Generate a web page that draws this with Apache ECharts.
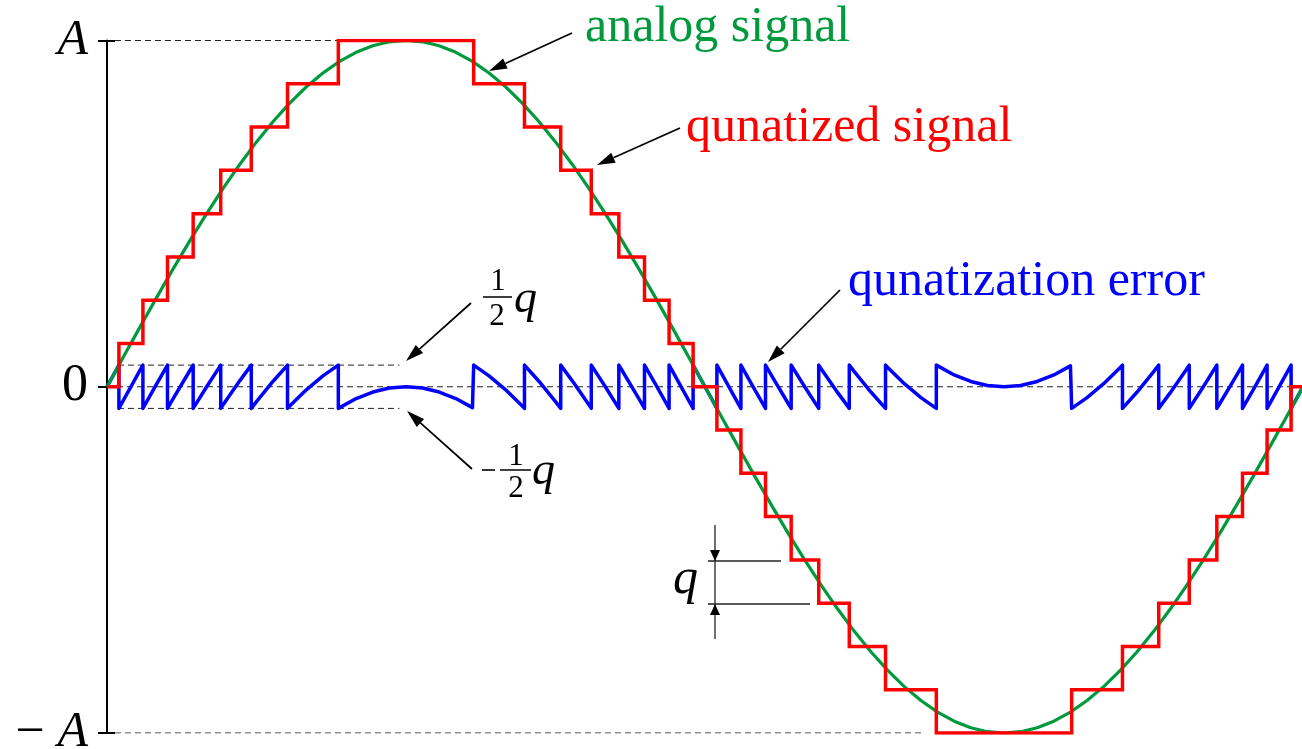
<!DOCTYPE html>
<html>
<head>
<meta charset="utf-8">
<script src="https://cdn.jsdelivr.net/npm/echarts@6/dist/echarts.min.js"></script>
<style>
  html, body { margin: 0; padding: 0; background: #fff; }
  #chart { width: 1302px; height: 749px; }
</style>
</head>
<body>
<div id="chart"></div>
<script>
// Phase of the analog samples (degrees over one period)
const phaseDeg = [
  0, 5, 10, 15, 20, 25, 30, 35, 40, 45, 50, 55, 60, 65, 70, 75, 80, 85, 90,
  95, 100, 105, 110, 115, 120, 125, 130, 135, 140, 145, 150, 155, 160, 165, 170, 175, 180,
  185, 190, 195, 200, 205, 210, 215, 220, 225, 230, 235, 240, 245, 250, 255, 260, 265, 270,
  275, 280, 285, 290, 295, 300, 305, 310, 315, 320, 325, 330, 335, 340, 345, 350, 355, 360
];
// Analog signal, in units of the quantization step q (A = 8q)
const analogSignal = [
  0, 0.697, 1.389, 2.071, 2.736, 3.381, 4, 4.589, 5.142, 5.657, 6.128, 6.553, 6.928, 7.250, 7.518, 7.727, 7.878, 7.970, 8,
  7.970, 7.878, 7.727, 7.518, 7.250, 6.928, 6.553, 6.128, 5.657, 5.142, 4.589, 4, 3.381, 2.736, 2.071, 1.389, 0.697, 0,
  -0.697, -1.389, -2.071, -2.736, -3.381, -4, -4.589, -5.142, -5.657, -6.128, -6.553, -6.928, -7.250, -7.518, -7.727, -7.878, -7.970, -8,
  -7.970, -7.878, -7.727, -7.518, -7.250, -6.928, -6.553, -6.128, -5.657, -5.142, -4.589, -4, -3.381, -2.736, -2.071, -1.389, -0.697, 0
];

// Quantized signal: phase where each level starts, and the level (in q)
const stepDeg = [
  0, 3.58, 10.81, 18.21, 25.94, 34.23, 43.43, 54.34, 69.63,
  110.37, 125.66, 136.57, 145.77, 154.06, 161.79, 169.19, 176.42,
  183.58, 190.81, 198.21, 205.94, 214.23, 223.43, 234.34, 249.63,
  290.37, 305.66, 316.57, 325.77, 334.06, 341.79, 349.19, 356.42, 360
];
const stepLevel = [
  0, 1, 2, 3, 4, 5, 6, 7, 8,
  7, 6, 5, 4, 3, 2, 1, 0,
  -1, -2, -3, -4, -5, -6, -7, -8,
  -7, -6, -5, -4, -3, -2, -1, 0, 0
];

// Quantization error (analog minus quantized), in q
const errorDeg = [
  0, 3.58, 3.58, 5, 10, 10.81, 10.81, 15, 18.21, 18.21, 20, 25, 25.94, 25.94, 30, 34.23, 34.23,
  35, 40, 43.43, 43.43, 45, 50, 54.34, 54.34, 55, 60, 65, 69.63, 69.63,
  70, 75, 80, 85, 90, 95, 100, 105, 110, 110.37, 110.37,
  115, 120, 125, 125.66, 125.66, 130, 135, 136.57, 136.57, 140, 145, 145.77, 145.77,
  150, 154.06, 154.06, 155, 160, 161.79, 161.79, 165, 169.19, 169.19, 170, 175, 176.42, 176.42, 180,
  183.58, 183.58, 185, 190, 190.81, 190.81, 195, 198.21, 198.21, 200, 205, 205.94, 205.94, 210, 214.23, 214.23,
  215, 220, 223.43, 223.43, 225, 230, 234.34, 234.34, 235, 240, 245, 249.63, 249.63,
  250, 255, 260, 265, 270, 275, 280, 285, 290, 290.37, 290.37,
  295, 300, 305, 305.66, 305.66, 310, 315, 316.57, 316.57, 320, 325, 325.77, 325.77,
  330, 334.06, 334.06, 335, 340, 341.79, 341.79, 345, 349.19, 349.19, 350, 355, 356.42, 356.42, 360
];
const errorVal = [
  0, 0.5, -0.5, -0.303, 0.389, 0.5, -0.5, 0.071, 0.5, -0.5, -0.264, 0.381, 0.5, -0.5, 0, 0.5, -0.5,
  -0.411, 0.142, 0.5, -0.5, -0.343, 0.128, 0.5, -0.5, -0.447, -0.072, 0.250, 0.5, -0.5,
  -0.482, -0.273, -0.122, -0.030, 0, -0.030, -0.122, -0.273, -0.482, -0.5, 0.5,
  0.250, -0.072, -0.447, -0.5, 0.5, 0.128, -0.343, -0.5, 0.5, 0.142, -0.411, -0.5, 0.5,
  0, -0.5, 0.5, 0.381, -0.264, -0.5, 0.5, 0.071, -0.5, 0.5, 0.389, -0.303, -0.5, 0.5, 0,
  -0.5, 0.5, 0.303, -0.389, -0.5, 0.5, -0.071, -0.5, 0.5, 0.264, -0.381, -0.5, 0.5, 0, -0.5, 0.5,
  0.411, -0.142, -0.5, 0.5, 0.343, -0.128, -0.5, 0.5, 0.447, 0.072, -0.250, -0.5, 0.5,
  0.482, 0.273, 0.122, 0.030, 0, 0.030, 0.122, 0.273, 0.482, 0.5, -0.5,
  -0.250, 0.072, 0.447, 0.5, -0.5, -0.128, 0.343, 0.5, -0.5, -0.142, 0.411, 0.5, -0.5,
  0, 0.5, -0.5, -0.381, 0.264, 0.5, -0.5, -0.071, 0.5, -0.5, -0.389, 0.303, 0.5, -0.5, 0
];

// Y-axis ticks (in q) and their labels
const tickValues = [-8, 0, 8];
const tickLabels = ['{n|\u2212 }{i|A}', '{n|0}', '{i|A}'];

// Dashed reference levels: level (q) and phase span (degrees)
const guideLevel = [8, -8, 0, 0.5, -0.5];
const guideFrom  = [2.4, 2.4, 0, 3.3, 3.3];
const guideTo    = [69.6, 246, 360, 88, 88];

const GREEN = '#009a3d';
const RED = '#ff0000';
const BLUE = '#0000ff';
const SERIF = '"Liberation Serif", "Times New Roman", serif';

const chart = echarts.init(document.getElementById('chart'), null, { renderer: 'canvas' });

const zip = (xs, ys) => xs.map((x, i) => [x, ys[i]]);

const guideSeries = guideLevel.map((lv, i) => ({
  type: 'line',
  silent: true,
  symbol: 'none',
  z: 1,
  data: [[guideFrom[i], lv], [guideTo[i], lv]],
  lineStyle: { color: '#222', width: 1, type: [6, 4] }
}));

const option = {
  animation: false,
  backgroundColor: '#fff',
  grid: {
    left: 107, top: 40.5, width: 1196, height: 692.5,
    containLabel: false, outerBoundsMode: 'none'
  },
  xAxis: { type: 'value', min: 0, max: 360, show: false },
  yAxis: [
    {
      type: 'value', min: -8, max: 8, interval: 8,
      axisLine: { show: true, lineStyle: { color: '#000', width: 2 } },
      axisTick: { show: true, length: 9, lineStyle: { color: '#000', width: 2 } },
      splitLine: { show: false },
      axisLabel: {
        margin: 19,
        formatter: v => tickLabels[tickValues.indexOf(v)],
        rich: {
          i: { fontFamily: SERIF, fontStyle: 'italic', fontSize: 50, color: '#000' },
          n: { fontFamily: SERIF, fontSize: 52, color: '#000' }
        }
      }
    },
    {
      type: 'value', min: -8, max: 8, interval: 8, position: 'left',
      axisLine: { show: false },
      axisTick: { show: true, inside: true, length: 8, lineStyle: { color: '#000', width: 2 } },
      axisLabel: { show: false },
      splitLine: { show: false }
    }
  ],
  series: [
    ...guideSeries,
    {
      name: 'qunatization error',
      type: 'line', symbol: 'none', z: 3,
      data: zip(errorDeg, errorVal),
      lineStyle: { color: BLUE, width: 3.5, join: 'round' }
    },
    {
      name: 'analog signal',
      type: 'line', symbol: 'none', z: 4,
      data: zip(phaseDeg, analogSignal),
      lineStyle: { color: GREEN, width: 3.2 }
    },
    {
      name: 'qunatized signal',
      type: 'line', symbol: 'none', z: 5, step: 'end',
      data: zip(stepDeg, stepLevel),
      lineStyle: { color: RED, width: 3.5, join: 'miter' }
    }
  ]
};
chart.setOption(option);

// ---- annotations ----
function arrow(x1, y1, x2, y2, len, wid, color) {
  const dx = x2 - x1, dy = y2 - y1;
  const d = Math.hypot(dx, dy);
  const ux = dx / d, uy = dy / d;
  const bx = x2 - ux * len, by = y2 - uy * len;
  const px = -uy * wid / 2, py = ux * wid / 2;
  return [
    { type: 'line', silent: true, z: 10,
      shape: { x1, y1, x2: bx, y2: by },
      style: { stroke: color, lineWidth: 1.7 } },
    { type: 'polygon', silent: true, z: 10,
      shape: { points: [[x2, y2], [bx + px, by + py], [bx - px, by - py]] },
      style: { fill: color } }
  ];
}
function label(x, y, text, size, color, italic, align) {
  return {
    type: 'text', silent: true, z: 10,
    style: {
      x, y, text,
      font: (italic ? 'italic ' : '') + size + 'px ' + SERIF,
      fill: color, align: align || 'left', verticalAlign: 'middle'
    }
  };
}
function hline(x1, x2, y, w, color) {
  return { type: 'line', silent: true, z: 10, shape: { x1, y1: y, x2, y2: y }, style: { stroke: color, lineWidth: w } };
}

const graphics = [
  label(585, 28, 'analog signal', 50, GREEN),
  label(686, 128, 'qunatized signal', 50, RED),
  label(848, 282, 'qunatization error', 50, BLUE),
  ...arrow(572, 33, 489, 71, 18, 11, '#000'),
  ...arrow(680, 128, 597, 165, 18, 11, '#000'),
  ...arrow(840, 290, 768, 362, 18, 11, '#000'),
  ...arrow(471, 303, 406, 361, 18, 11, '#000'),
  ...arrow(472, 469, 407, 411, 18, 11, '#000'),

  // ½q
  label(498, 282, '1', 31, '#000', false, 'center'),
  hline(483, 512, 297, 1.5, '#000'),
  label(497, 317, '2', 31, '#000', false, 'center'),
  label(514, 300, 'q', 46, '#000', true),

  // −½q
  hline(482, 495, 470, 1.6, '#000'),
  hline(500, 531, 470, 1.5, '#000'),
  label(516, 457, '1', 31, '#000', false, 'center'),
  label(516, 489, '2', 31, '#000', false, 'center'),
  label(532, 472, 'q', 46, '#000', true),

  // q dimension
  { type: 'line', silent: true, z: 10, shape: { x1: 715, y1: 525, x2: 715, y2: 639 }, style: { stroke: '#222', lineWidth: 1.3 } },
  hline(708, 781, 561, 1.3, '#222'),
  hline(708, 810, 604, 1.3, '#222'),
  { type: 'polygon', silent: true, z: 10, shape: { points: [[715, 561], [710, 550], [720, 550]] }, style: { fill: '#000' } },
  { type: 'polygon', silent: true, z: 10, shape: { points: [[715, 604], [710, 615], [720, 615]] }, style: { fill: '#000' } },
  label(673, 580, 'q', 50, '#000', true)
];
chart.setOption({ graphic: { elements: graphics } });
</script>
</body>
</html>
